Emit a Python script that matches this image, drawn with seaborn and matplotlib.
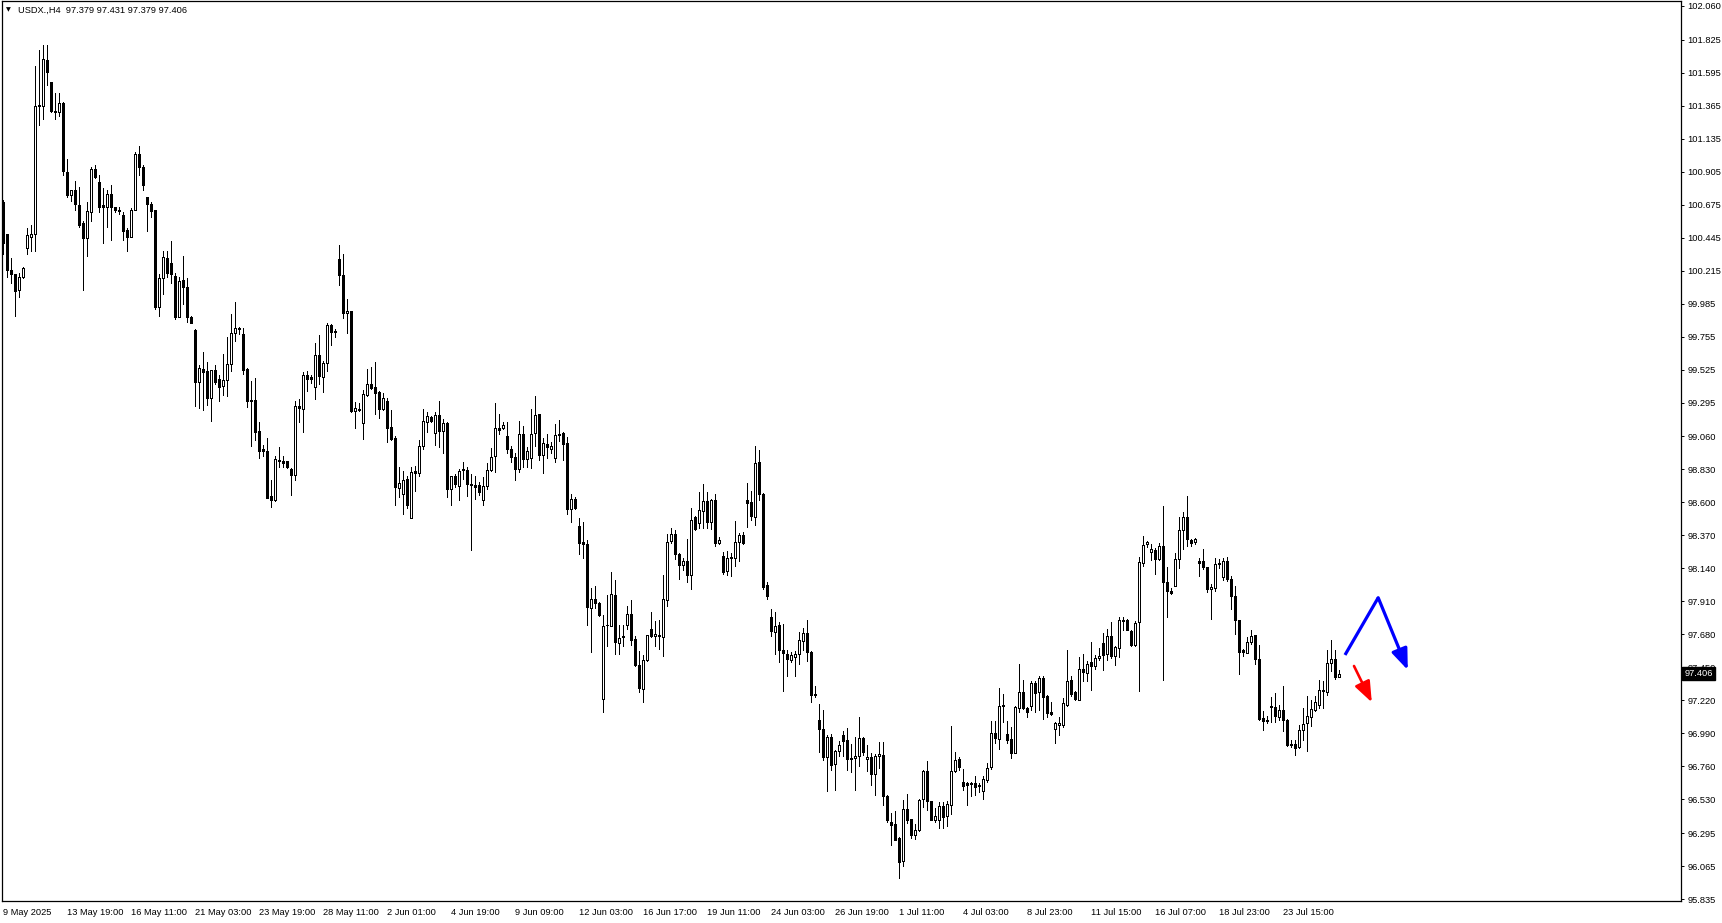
import numpy as np
import pandas as pd
import seaborn as sns
import matplotlib.pyplot as plt
from matplotlib import transforms

# USDX H4 candles (one row per bar)
OPENS = [
    100.69, 100.47, 100.22, 100.19, 100.08, 100.17, 100.37, 100.45, 100.47, 101.36,
    101.36, 101.68, 101.53, 101.33, 101.32, 101.38, 100.90, 100.74, 100.78, 100.67,
    100.55, 100.44, 100.62, 100.92, 100.83, 100.67, 100.66, 100.75, 100.66, 100.64,
    100.60, 100.50, 100.45, 100.64, 101.03, 100.94, 100.73, 100.68, 100.64, 99.96,
    100.16, 100.30, 100.27, 100.18, 99.89, 100.15, 100.10, 99.89, 99.80, 99.44,
    99.53, 99.517, 99.33, 99.52, 99.46, 99.41, 99.454, 99.563, 99.779, 99.814,
    99.774, 99.53, 99.315, 99.315, 99.098, 98.973, 98.959, 98.641, 98.613, 98.896,
    98.891, 98.891, 98.831, 98.787, 99.272, 99.249, 99.488, 99.474, 99.407, 99.628,
    99.47, 99.57, 99.837, 99.797, 100.295, 100.185, 99.918, 99.93, 99.238, 99.249,
    99.152, 99.349, 99.426, 99.403, 99.368, 99.252, 99.307, 99.124, 99.047, 98.699,
    98.657, 98.764, 98.494, 98.82, 98.803, 98.989, 99.159, 99.194, 99.082, 99.21,
    99.094, 99.152, 98.692, 98.782, 98.717, 98.833, 98.827, 98.729, 98.722, 98.72,
    98.617, 98.715, 98.827, 98.92, 99.117, 99.117, 99.063, 98.97, 98.915, 98.831,
    99.075, 98.903, 98.908, 99.082, 99.217, 98.931, 99.005, 98.973, 98.908, 99.066,
    99.082, 99.012, 98.552, 98.624, 98.432, 98.32, 98.311, 97.862, 97.926, 97.898,
    97.229, 97.742, 97.74, 97.956, 97.619, 97.661, 97.747, 97.823, 97.649, 97.468,
    97.298, 97.503, 97.719, 97.665, 97.677, 97.661, 97.916, 98.327, 98.381, 98.242,
    98.16, 98.193, 98.091, 98.495, 98.455, 98.537, 98.606, 98.46, 98.618, 98.316,
    98.228, 98.118, 98.218, 98.211, 98.323, 98.374, 98.618, 98.602, 98.497, 98.88,
    98.66, 98.021, 97.8, 97.696, 97.747, 97.572, 97.545, 97.498, 97.521, 97.545,
    97.635, 97.689, 97.556, 97.266, 97.085, 97.02, 96.825, 96.962, 96.778, 96.869,
    96.98, 96.945, 96.818, 96.818, 96.834, 96.957, 96.811, 96.825, 96.706, 96.829,
    96.841, 96.555, 96.369, 96.36, 96.26, 96.097, 96.464, 96.392, 96.279, 96.314,
    96.532, 96.725, 96.516, 96.383, 96.383, 96.485, 96.411, 96.492, 96.725, 96.811,
    96.648, 96.643, 96.643, 96.643, 96.632, 96.585, 96.667, 96.754, 96.992, 96.95,
    97.184, 96.985, 96.952, 96.852, 97.166, 97.277, 97.166, 97.177, 97.34, 97.277,
    97.375, 97.252, 97.138, 97.019, 97.05, 97.045, 97.184, 97.363, 97.275, 97.224,
    97.438, 97.41, 97.484, 97.456, 97.514, 97.619, 97.542, 97.67, 97.526, 97.584,
    97.775, 97.781, 97.705, 97.602, 97.763, 98.176, 98.311, 98.253, 98.269, 98.206,
    98.297, 98.044, 97.983, 98.018, 98.206, 98.409, 98.497, 98.339, 98.323, 98.193,
    98.188, 98.146, 97.995, 98.002, 98.169, 98.076, 98.193, 98.065, 97.944, 97.777,
    97.568, 97.549, 97.623, 97.672, 97.51, 97.096, 97.084, 97.177, 97.173, 97.103,
    97.154, 97.084, 96.917, 96.917, 96.894, 97.015, 97.061, 97.103, 97.154, 97.189,
    97.282, 97.277, 97.479, 97.51, 97.379,
]
HIGHS = [
    100.71, 100.47, 100.30, 100.19, 100.20, 100.24, 100.51, 100.53, 101.64, 101.75,
    101.79, 101.79, 101.53, 101.45, 101.45, 101.39, 100.99, 100.78, 100.84, 100.80,
    100.56, 100.69, 100.94, 100.95, 100.88, 100.79, 100.78, 100.81, 100.66, 100.66,
    100.62, 100.51, 100.65, 101.04, 101.08, 100.95, 100.73, 100.69, 100.64, 100.19,
    100.35, 100.35, 100.42, 100.20, 100.17, 100.32, 100.16, 99.90, 99.81, 99.56,
    99.651, 99.575, 99.52, 99.554, 99.484, 99.635, 99.749, 99.914, 99.993, 99.825,
    99.814, 99.535, 99.447, 99.465, 99.163, 99.0, 99.047, 98.752, 98.926, 98.984,
    98.924, 98.891, 98.838, 99.303, 99.319, 99.505, 99.512, 99.488, 99.709, 99.767,
    99.586, 99.849, 99.842, 99.807, 100.394, 100.332, 100.018, 99.93, 99.296, 99.291,
    99.384, 99.53, 99.54, 99.579, 99.379, 99.36, 99.326, 99.245, 99.063, 98.845,
    98.815, 98.785, 98.845, 98.854, 99.036, 99.252, 99.226, 99.203, 99.226, 99.307,
    99.18, 99.159, 98.785, 98.796, 98.833, 98.878, 98.843, 98.796, 98.785, 98.741,
    98.775, 98.873, 98.977, 99.291, 99.217, 99.159, 99.159, 98.994, 98.943, 99.168,
    99.133, 98.984, 99.252, 99.342, 99.217, 99.047, 99.077, 99.017, 99.147, 99.175,
    99.087, 99.054, 98.657, 98.636, 98.49, 98.462, 98.334, 98.002, 98.014, 97.902,
    97.816, 97.956, 98.114, 98.06, 97.747, 97.747, 97.875, 97.921, 97.665, 97.566,
    97.538, 97.677, 97.835, 97.77, 97.782, 98.091, 98.381, 98.42, 98.404, 98.246,
    98.211, 98.346, 98.56, 98.506, 98.671, 98.729, 98.671, 98.625, 98.66, 98.355,
    98.253, 98.262, 98.246, 98.467, 98.386, 98.393, 98.734, 98.681, 98.994, 98.966,
    98.664, 98.042, 97.858, 97.833, 97.763, 97.754, 97.572, 97.554, 97.561, 97.693,
    97.724, 97.782, 97.561, 97.322, 97.196, 97.154, 96.98, 96.985, 96.876, 96.938,
    97.008, 97.027, 96.915, 96.962, 97.103, 96.962, 96.91, 96.852, 96.845, 96.929,
    96.927, 96.562, 96.434, 96.45, 96.265, 96.527, 96.569, 96.395, 96.36, 96.534,
    96.736, 96.799, 96.516, 96.469, 96.511, 96.511, 96.516, 97.043, 96.859, 96.825,
    96.743, 96.648, 96.648, 96.69, 96.643, 96.694, 96.783, 97.077, 97.077, 97.305,
    97.263, 97.077, 97.033, 97.177, 97.475, 97.363, 97.17, 97.356, 97.356, 97.391,
    97.386, 97.259, 97.208, 97.068, 97.103, 97.235, 97.572, 97.386, 97.282, 97.521,
    97.544, 97.491, 97.626, 97.537, 97.584, 97.688, 97.716, 97.765, 97.6, 97.8,
    97.798, 97.786, 97.712, 97.77, 98.218, 98.367, 98.332, 98.309, 98.281, 98.316,
    98.576, 98.148, 98.002, 98.246, 98.495, 98.532, 98.645, 98.346, 98.35, 98.211,
    98.274, 98.148, 98.032, 98.211, 98.204, 98.211, 98.218, 98.083, 98.018, 97.781,
    97.577, 97.66, 97.707, 97.677, 97.607, 97.147, 97.108, 97.242, 97.27, 97.184,
    97.321, 97.089, 96.945, 96.94, 97.045, 97.166, 97.247, 97.224, 97.252, 97.363,
    97.352, 97.572, 97.642, 97.572, 97.431,
]
LOWS = [
    100.33, 100.17, 100.13, 99.90, 100.03, 100.16, 100.33, 100.35, 100.35, 101.23,
    101.27, 101.51, 101.32, 101.27, 101.29, 100.88, 100.73, 100.70, 100.64, 100.52,
    100.08, 100.32, 100.56, 100.86, 100.62, 100.41, 100.52, 100.43, 100.62, 100.61,
    100.43, 100.35, 100.45, 100.64, 100.88, 100.78, 100.49, 100.59, 99.95, 99.90,
    100.05, 100.17, 100.13, 99.88, 99.89, 99.98, 99.86, 99.85, 99.27, 99.26,
    99.245, 99.28, 99.17, 99.423, 99.303, 99.345, 99.338, 99.512, 99.721, 99.77,
    99.495, 99.261, 98.989, 99.031, 98.908, 98.924, 98.629, 98.566, 98.606, 98.845,
    98.845, 98.838, 98.652, 98.752, 99.163, 99.087, 99.379, 99.43, 99.321, 99.426,
    99.372, 99.512, 99.698, 99.749, 100.116, 99.883, 99.779, 99.226, 99.117, 99.233,
    99.04, 99.342, 99.389, 99.217, 99.186, 99.245, 99.019, 99.035, 98.583, 98.636,
    98.518, 98.559, 98.49, 98.676, 98.78, 98.97, 99.089, 99.159, 98.996, 98.984,
    98.947, 98.634, 98.583, 98.706, 98.613, 98.761, 98.645, 98.269, 98.624, 98.652,
    98.583, 98.694, 98.815, 98.808, 99.075, 99.11, 98.947, 98.878, 98.752, 98.808,
    98.845, 98.843, 98.838, 98.989, 98.892, 98.803, 98.908, 98.947, 98.878, 99.024,
    98.892, 98.52, 98.466, 98.555, 98.241, 98.211, 97.742, 97.56, 97.863, 97.81,
    97.136, 97.596, 97.735, 97.545, 97.545, 97.596, 97.717, 97.607, 97.461, 97.277,
    97.208, 97.491, 97.661, 97.596, 97.577, 97.526, 97.875, 98.316, 98.204, 98.067,
    98.13, 98.042, 97.998, 98.404, 98.42, 98.42, 98.42, 98.413, 98.297, 98.309,
    98.1, 98.091, 98.088, 98.153, 98.193, 98.311, 98.425, 98.478, 98.439, 98.613,
    97.998, 97.926, 97.665, 97.545, 97.49, 97.282, 97.387, 97.484, 97.387, 97.473,
    97.573, 97.491, 97.208, 97.243, 96.857, 96.801, 96.585, 96.732, 96.597, 96.834,
    96.834, 96.732, 96.718, 96.592, 96.764, 96.836, 96.725, 96.627, 96.562, 96.748,
    96.492, 96.372, 96.209, 96.244, 95.981, 96.063, 96.365, 96.26, 96.255, 96.311,
    96.476, 96.453, 96.383, 96.369, 96.327, 96.327, 96.346, 96.43, 96.718, 96.732,
    96.597, 96.488, 96.55, 96.557, 96.581, 96.532, 96.648, 96.741, 96.922, 96.88,
    97.066, 96.922, 96.817, 96.852, 97.138, 97.159, 97.103, 97.154, 97.138, 97.154,
    97.089, 97.103, 97.119, 96.922, 96.98, 97.033, 97.177, 97.252, 97.224, 97.219,
    97.356, 97.352, 97.293, 97.438, 97.503, 97.428, 97.503, 97.514, 97.463, 97.519,
    97.712, 97.707, 97.596, 97.596, 97.282, 98.158, 98.285, 98.2, 98.102, 98.2,
    97.363, 97.8, 97.962, 98.014, 98.141, 98.276, 98.297, 98.292, 98.311, 98.083,
    98.134, 97.974, 97.786, 97.983, 98.141, 98.06, 98.048, 97.858, 97.684, 97.403,
    97.531, 97.549, 97.614, 97.475, 97.084, 97.01, 97.061, 97.068, 97.068, 97.08,
    97.003, 96.899, 96.894, 96.838, 96.887, 96.945, 96.864, 97.038, 97.143, 97.166,
    97.166, 97.259, 97.426, 97.368, 97.379,
]
CLOSES = [
    100.41, 100.22, 100.19, 100.07, 100.17, 100.23, 100.46, 100.47, 101.36, 101.37,
    101.69, 101.60, 101.33, 101.32, 101.38, 100.91, 100.74, 100.78, 100.68, 100.53,
    100.44, 100.63, 100.92, 100.87, 100.66, 100.66, 100.75, 100.66, 100.64, 100.63,
    100.49, 100.45, 100.64, 101.03, 100.94, 100.81, 100.68, 100.63, 99.96, 100.16,
    100.31, 100.20, 100.19, 99.89, 100.14, 100.10, 99.89, 99.85, 99.44, 99.535,
    99.51, 99.33, 99.52, 99.44, 99.407, 99.454, 99.563, 99.779, 99.814, 99.807,
    99.519, 99.303, 99.303, 99.089, 98.961, 98.961, 98.629, 98.613, 98.901, 98.885,
    98.877, 98.843, 98.792, 99.272, 99.256, 99.488, 99.461, 99.461, 99.628, 99.477,
    99.574, 99.837, 99.79, 99.79, 100.181, 99.918, 99.935, 99.233, 99.256, 99.24,
    99.354, 99.426, 99.396, 99.361, 99.252, 99.326, 99.117, 99.043, 98.706, 98.734,
    98.757, 98.578, 98.81, 98.803, 98.994, 99.166, 99.203, 99.17, 99.21, 99.094,
    99.152, 98.692, 98.782, 98.727, 98.82, 98.822, 98.727, 98.722, 98.71, 98.669,
    98.715, 98.827, 98.915, 99.117, 99.105, 99.14, 98.97, 98.919, 98.831, 99.075,
    98.901, 98.959, 99.075, 99.21, 98.931, 99.012, 98.984, 98.994, 99.07, 99.075,
    99.005, 98.552, 98.624, 98.559, 98.315, 98.308, 97.869, 97.925, 97.898, 97.812,
    97.74, 97.747, 97.96, 97.626, 97.656, 97.67, 97.823, 97.638, 97.468, 97.305,
    97.503, 97.677, 97.665, 97.684, 97.665, 97.928, 98.323, 98.381, 98.239, 98.16,
    98.193, 98.095, 98.478, 98.416, 98.548, 98.611, 98.46, 98.618, 98.316, 98.339,
    98.114, 98.211, 98.209, 98.323, 98.374, 98.316, 98.595, 98.502, 98.873, 98.657,
    98.007, 97.944, 97.7, 97.735, 97.568, 97.549, 97.507, 97.538, 97.545, 97.638,
    97.689, 97.556, 97.259, 97.259, 97.02, 96.825, 96.962, 96.766, 96.869, 96.91,
    96.938, 96.811, 96.811, 96.834, 96.957, 96.859, 96.825, 96.706, 96.829, 96.848,
    96.55, 96.383, 96.348, 96.244, 96.093, 96.464, 96.383, 96.279, 96.318, 96.527,
    96.725, 96.516, 96.388, 96.416, 96.485, 96.406, 96.499, 96.729, 96.806, 96.753,
    96.62, 96.632, 96.636, 96.615, 96.62, 96.674, 96.748, 96.992, 96.957, 97.177,
    97.177, 96.94, 96.852, 97.173, 97.277, 97.166, 97.138, 97.34, 97.27, 97.375,
    97.242, 97.131, 97.126, 97.061, 97.061, 97.201, 97.356, 97.263, 97.228, 97.438,
    97.414, 97.475, 97.456, 97.514, 97.531, 97.537, 97.67, 97.526, 97.589, 97.781,
    97.781, 97.712, 97.602, 97.758, 98.183, 98.304, 98.32, 98.276, 98.206, 98.297,
    98.044, 97.979, 97.967, 98.206, 98.409, 98.497, 98.343, 98.316, 98.343, 98.176,
    98.146, 97.995, 98.009, 98.169, 98.176, 98.188, 98.065, 97.944, 97.777, 97.56,
    97.554, 97.626, 97.67, 97.507, 97.091, 97.077, 97.077, 97.173, 97.108, 97.149,
    97.084, 96.905, 96.905, 96.887, 97.015, 97.057, 97.112, 97.161, 97.205, 97.293,
    97.289, 97.479, 97.51, 97.379, 97.406,
]

DATE_LABELS = [
    "9 May 2025", "13 May 19:00", "16 May 11:00", "21 May 03:00", "23 May 19:00",
    "28 May 11:00", "2 Jun 01:00", "4 Jun 19:00", "9 Jun 09:00", "12 Jun 03:00",
    "16 Jun 17:00", "19 Jun 11:00", "24 Jun 03:00", "26 Jun 19:00", "1 Jul 11:00",
    "4 Jul 03:00", "8 Jul 23:00", "11 Jul 15:00", "16 Jul 07:00", "18 Jul 23:00",
    "23 Jul 15:00",
]
BARS_PER_LABEL = 16

PRICE_TICKS = [
    102.060, 101.825, 101.595, 101.365, 101.135, 100.905, 100.675, 100.445, 100.215,
    99.985, 99.755, 99.525, 99.295, 99.060, 98.830, 98.600, 98.370, 98.140, 97.910,
    97.680, 97.450, 97.220, 96.990, 96.760, 96.530, 96.295, 96.065, 95.835,
]

SYMBOL = "USDX.,H4"
LAST_PRICE = 97.406

# hand-drawn projection arrows (bar index, price)
BLUE_PATH_X = [335.5, 343.8, 351.2]
BLUE_PATH_Y = [97.536, 97.935, 97.431]
RED_PATH_X = [337.75, 342.2]
RED_PATH_Y = [97.459, 97.206]

sns.set_style("white")
plt.rcParams["font.family"] = ["Liberation Sans", "DejaVu Sans"]

W, H = 1722, 923
fig = plt.figure(figsize=(W / 100, H / 100), dpi=100)
ax = fig.add_axes([1.5 / W, 21.7 / H, (1680.5 - 1.5) / W, (922 - 21.7) / H])

df = pd.DataFrame({"open": OPENS, "high": HIGHS, "low": LOWS, "close": CLOSES})
df["bar"] = np.arange(len(df))
bull = df["close"] >= df["open"]
body_lo = np.minimum(df["open"], df["close"])
body_h = (df["close"] - df["open"]).abs().clip(lower=0.002)

# one pixel is 0.72 pt at 100 dpi
PX = 0.72
ax.vlines(df["bar"], df["low"], df["high"], color="black", lw=PX,
          antialiased=False, zorder=1)
ax.bar(df["bar"], body_h, bottom=body_lo, width=0.62,
       color=np.where(bull, "white", "black"), edgecolor="black",
       linewidth=PX, antialiased=False, zorder=2)

# projection arrows
ax.plot(BLUE_PATH_X[:2], BLUE_PATH_Y[:2], color="#0000ff", lw=2.3,
        solid_capstyle="butt", zorder=5)
ax.annotate("", xy=(BLUE_PATH_X[2], BLUE_PATH_Y[2]),
            xytext=(BLUE_PATH_X[1], BLUE_PATH_Y[1]),
            arrowprops=dict(arrowstyle="-|>,head_length=0.9,head_width=0.35",
                            color="#0000ff", lw=2.3, mutation_scale=14,
                            shrinkA=0, shrinkB=0), zorder=5)
ax.annotate("", xy=(RED_PATH_X[1], RED_PATH_Y[1]),
            xytext=(RED_PATH_X[0], RED_PATH_Y[0]),
            arrowprops=dict(arrowstyle="-|>,head_length=0.9,head_width=0.35",
                            color="#ff0000", lw=1.9, mutation_scale=14,
                            shrinkA=0, shrinkB=0), zorder=5)

ax.set_xlim(-0.375, 419.375)
ax.set_ylim(95.819, 102.094)

for side in ["left", "right", "top", "bottom"]:
    ax.spines[side].set_visible(True)
    ax.spines[side].set_color("black")
    ax.spines[side].set_linewidth(0.9)

ax.yaxis.tick_right()
ax.set_yticks(PRICE_TICKS)
ax.set_yticklabels([f"{p:.3f}" for p in PRICE_TICKS])
ax.tick_params(axis="y", direction="out", length=2.5, width=0.7, pad=2.5,
               labelsize=6.7, colors="black", left=False, right=True)

ax.set_xticks(np.arange(len(DATE_LABELS)) * BARS_PER_LABEL)
ax.set_xticklabels(DATE_LABELS, ha="left")
ax.tick_params(axis="x", direction="out", length=3, width=0.7, pad=1.5,
               labelsize=6.7, colors="black")

# current price tag on the price scale (sits over the 97.450 label, as in MT4)
tr = transforms.blended_transform_factory(ax.transAxes, ax.transData)
ax.text(1.0022, LAST_PRICE, f"{LAST_PRICE:.3f}", transform=tr, ha="left",
        va="center", fontsize=6.7, color="white", clip_on=False, zorder=10,
        bbox=dict(boxstyle="square,pad=0.22", fc="black", ec="black"))

# header line
fig.text(6 / W, 1 - 10 / H, "\u25bc", fontsize=4.5, va="center", ha="left",
         family="DejaVu Sans", color="black")
fig.text(18 / W, 1 - 10 / H,
         f"{SYMBOL}  {OPENS[-1]:.3f} {HIGHS[-1]:.3f} {LOWS[-1]:.3f} {CLOSES[-1]:.3f}",
         fontsize=6.7, va="center", ha="left", color="black")

fig.savefig("out.png", dpi=100, facecolor="white")
